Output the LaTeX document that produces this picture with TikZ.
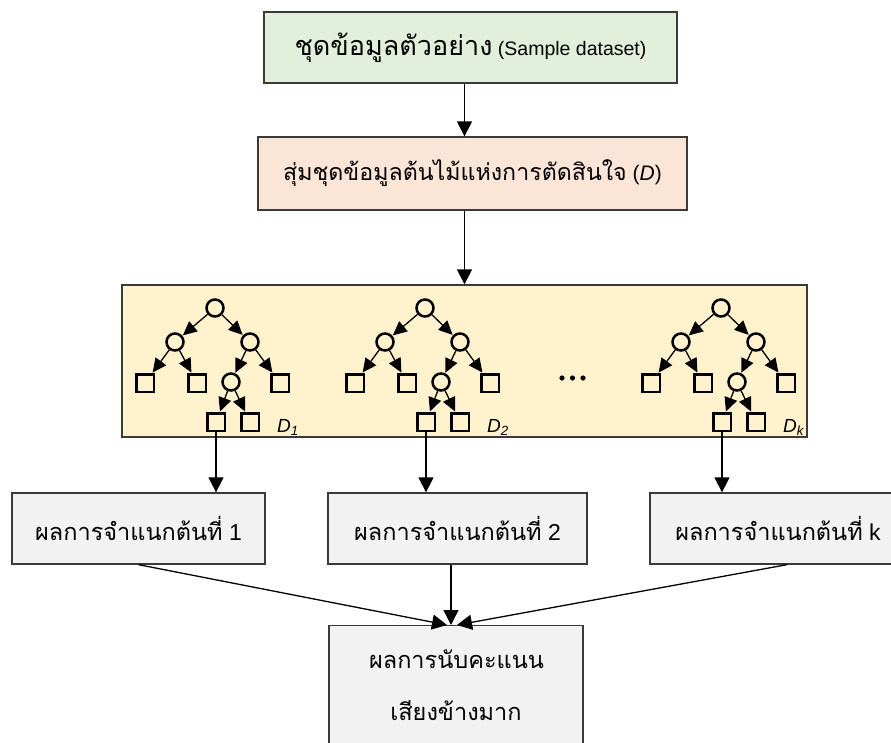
\documentclass[tikz,border=0pt]{standalone}
\usepackage{fontspec}
\setmainfont{Liberation Sans}
\newfontfamily\thai[Script=Thai]{Loma}
\usetikzlibrary{arrows.meta,calc}

% Thai runs at a given size
\newcommand\thairun[2]{{\fontsize{#1}{#1}\selectfont\thai #2}}

\definecolor{edge}{HTML}{3A3A3A}
\definecolor{greenbox}{HTML}{E2EFDA}
\definecolor{pinkbox}{HTML}{FBE5D6}
\definecolor{yellowbox}{HTML}{FFF2CC}
\definecolor{graybox}{HTML}{F2F2F2}

\tikzset{
  box/.style={draw=edge, line width=1.3pt, inner sep=0pt, align=center,
    font=\fontsize{18.5}{22}\selectfont},
  resbox/.style={box, fill=graybox, minimum height=71pt, font=\fontsize{23}{26}\selectfont},
  arr/.style={line width=1.3pt, -{Triangle[width=15pt,length=15pt]}},
  tarr/.style={line width=1.3pt, -{Triangle[width=13pt,length=14pt]}, shorten >=0.5pt},
  tcirc/.style={circle, draw, line width=2.5pt, minimum size=17pt, inner sep=0pt},
  tleaf/.style={rectangle, draw, line width=2.5pt, minimum size=17.5pt, inner sep=0pt},
  tlabel/.style={anchor=base west, inner sep=0pt, font=\fontsize{19}{22}\selectfont\itshape},
  votetext/.style={anchor=base, inner sep=0pt},
  pics/dtree/.style={code={
    \node[tcirc] (-r)  at (0,0)    {};
    \node[tcirc] (-a)  at (-40,34) {};
    \node[tcirc] (-b)  at (35,34)  {};
    \node[tleaf] (-s1) at (-70,75) {};
    \node[tleaf] (-s2) at (-18,75) {};
    \node[tcirc] (-c)  at (16,74)  {};
    \node[tleaf] (-s3) at (65,75)  {};
    \node[tleaf] (-s4) at (1,114)  {};
    \node[tleaf] (-s5) at (35,114) {};
    \node[tlabel] (-lbl) at (62,124) {D\textsubscript{#1}};
    \draw[tarr] (-r) -- (-a);
    \draw[tarr] (-r) -- (-b);
    \draw[tarr] (-a) -- (-s1);
    \draw[tarr] (-a) -- (-s2);
    \draw[tarr] (-b) -- (-c);
    \draw[tarr] (-b) -- (-s3);
    \draw[tarr] (-c) -- (-s4);
    \draw[tarr] (-c) -- (-s5);
  }}
}

\begin{document}
\begin{tikzpicture}[x=1pt,y=-1pt]
  \clip (0,0) rectangle (891,742);
  \fill[white] (0,0) rectangle (891,742);

  % input data and sampling
  \node[box, fill=greenbox, minimum width=413pt, minimum height=71pt,
        font=\fontsize{19.5}{22}\selectfont] (top) at (470.5,47.5)
    {\thairun{27}{ชุดข้อมูลตัวอย่าง} (Sample dataset)};
  \node[box, fill=pinkbox, minimum width=429pt, minimum height=73pt,
        font=\fontsize{21}{24}\selectfont] (pink) at (472.5,173.5)
    {\thairun{23.2}{สุ่มชุดข้อมูลต้นไม้แห่งการตัดสินใจ} (\textit{D})};

  % forest of decision trees
  \node[box, fill=yellowbox, minimum width=685pt, minimum height=152pt] (yel) at (464.5,361) {};
  \pic (t1) at (215,308) {dtree=1};
  \pic (t2) at (425,308) {dtree=2};
  \pic (tk) at (721,308) {dtree=k};
  \fill (562,378) circle (2.6pt) (572.5,378) circle (2.6pt) (583,378) circle (2.6pt);

  % per-tree results
  \node[resbox, minimum width=253pt] (b1) at (138.5,528.5)
    {\thairun{23.5}{ผลการจำแนกต้นที่} 1};
  \node[resbox, minimum width=259pt] (b2) at (457.5,528.5)
    {\thairun{23.5}{ผลการจำแนกต้นที่} 2};
  \node[resbox, minimum width=256pt] (b3) at (778,528.5)
    {\thairun{23.5}{ผลการจำแนกต้นที่} k};

  % majority vote
  \node[box, fill=graybox, minimum width=254pt, minimum height=140pt, anchor=north] (vote) at (456,625) {};
  \node[votetext] (vote1) at (456.5,668) {\thairun{23.5}{ผลการนับคะแนน}};
  \node[votetext] (vote2) at (456,720) {\thairun{23.5}{เสียงข้างมาก}};

  % connectors
  \draw[arr] (top.south -| yel.north) -- (pink.north -| yel.north);
  \draw[arr] (pink.south -| yel.north) -- (yel.north);
  \draw[arr] (t1-s4.south) -- (t1-s4.south |- b1.north);
  \draw[arr] (t2-s4.south) -- (t2-s4.south |- b2.north);
  \draw[arr] (tk-s4.south) -- (tk-s4.south |- b3.north);
  \coordinate (inL) at ($(vote.north)+(-9,0)$);
  \coordinate (inM) at ($(vote.north)+(-5,0)$);
  \coordinate (inR) at ($(vote.north)+(1,0)$);
  \coordinate (outR) at ($(b3.south)+(9,0)$);
  \draw[arr] (b1.south) -- (inL);
  \draw[arr] (b2.south -| inM) -- (inM);
  \draw[arr] (outR) -- (inR);
\end{tikzpicture}
\end{document}
